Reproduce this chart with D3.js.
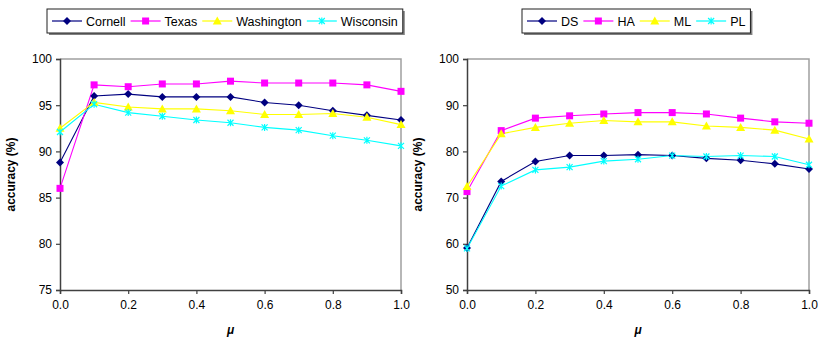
<!DOCTYPE html>
<html>
<head>
<meta charset="utf-8">
<script src="https://d3js.org/d3.v7.min.js"></script>
<style>
  body { margin: 0; background: #fff; }
  svg { display: block; font-family: "Liberation Sans", Arial, sans-serif; }
</style>
</head>
<body>
<svg id="chart" width="818" height="338"></svg>
<script>
// mu values shared by both panels
const mu = [0, 0.1, 0.2, 0.3, 0.4, 0.5, 0.6, 0.7, 0.8, 0.9, 1.0];
const xTicks = [0, 0.2, 0.4, 0.6, 0.8, 1.0];

// left panel
const leftNames = ['Cornell', 'Texas', 'Washington', 'Wisconsin'];
const cornell    = [88.8, 96.0, 96.2, 95.9, 95.9, 95.9, 95.3, 95.0, 94.4, 93.9, 93.4];
const texas      = [86.0, 97.2, 97.0, 97.3, 97.3, 97.6, 97.4, 97.4, 97.4, 97.2, 96.5];
const washington = [92.5, 95.3, 94.8, 94.6, 94.6, 94.4, 94.0, 94.0, 94.1, 93.7, 92.9];
const wisconsin  = [92.1, 95.1, 94.2, 93.8, 93.4, 93.1, 92.6, 92.3, 91.7, 91.2, 90.6];
const leftTicks = [75, 80, 85, 90, 95, 100];

// right panel
const rightNames = ['DS', 'HA', 'ML', 'PL'];
const ds = [59.1, 73.5, 77.8, 79.1, 79.1, 79.3, 79.1, 78.5, 78.1, 77.3, 76.2];
const ha = [71.3, 84.5, 87.2, 87.7, 88.1, 88.4, 88.4, 88.1, 87.2, 86.4, 86.1];
const ml = [72.4, 83.8, 85.2, 86.1, 86.7, 86.4, 86.4, 85.5, 85.2, 84.6, 82.7];
const pl = [59.0, 72.5, 76.0, 76.6, 77.9, 78.3, 79.1, 78.9, 79.1, 78.9, 77.1];
const rightTicks = [50, 60, 70, 80, 90, 100];

const colors = ['#000080', '#ff00ff', '#ffff00', '#00ffff'];
const shapes = ['diamond', 'square', 'triangle', 'x'];

const svg = d3.select('#chart');

function marker(g, shape, color, x, y) {
  if (shape === 'diamond') {
    g.append('path').attr('d', `M${x},${y-4}L${x+4},${y}L${x},${y+4}L${x-4},${y}Z`).attr('fill', color);
  } else if (shape === 'square') {
    g.append('rect').attr('x', x-3.5).attr('y', y-3.5).attr('width', 7).attr('height', 7).attr('fill', color);
  } else if (shape === 'triangle') {
    g.append('path').attr('d', `M${x},${y-4.5}L${x+4.5},${y+3.5}L${x-4.5},${y+3.5}Z`).attr('fill', color);
  } else {
    g.append('path').attr('d', `M${x-3},${y-3}L${x+3},${y+3}M${x+3},${y-3}L${x-3},${y+3}M${x},${y-3.5}L${x},${y+3.5}`)
      .attr('stroke', color).attr('stroke-width', 1.2).attr('fill', 'none');
  }
}

function panel(opt) {
  const x = d3.scaleLinear().domain([0, 1]).range([opt.x0, opt.x1]);
  const y = d3.scaleLinear().domain(opt.yDomain).range([290, 59]);
  const g = svg.append('g');

  // frame: top and right light gray
  g.append('path').attr('d', `M${opt.x0},59H${opt.x1}V290`).attr('stroke', '#a0a0a0').attr('stroke-width', 1.5).attr('fill', 'none');

  const yAxis = g.append('g').attr('transform', `translate(${opt.x0},0)`)
    .call(d3.axisLeft(y).tickValues(opt.yTicks).tickSize(4).tickPadding(4));
  const xAxis = g.append('g').attr('transform', 'translate(0,290)')
    .call(d3.axisBottom(x).tickValues(xTicks).tickSize(4).tickPadding(6).tickFormat(d3.format('.1f')));
  [yAxis, xAxis].forEach(a => {
    a.select('.domain').attr('stroke', '#404040').attr('stroke-width', 1.5);
    a.selectAll('.tick line').attr('stroke', '#404040').attr('stroke-width', 1.2);
    a.selectAll('.tick text').attr('font-size', 12).attr('fill', '#000').attr('font-family', '"Liberation Sans", Arial, sans-serif');
  });

  const line = d3.line().x((d, i) => x(mu[i])).y(d => y(d));
  opt.series.forEach((s, k) => {
    g.append('path').datum(s).attr('d', line).attr('fill', 'none').attr('stroke', colors[k]).attr('stroke-width', 1.1);
  });
  opt.series.forEach((s, k) => {
    s.forEach((v, i) => marker(g, shapes[k], colors[k], x(mu[i]), y(v)));
  });

  // axis titles
  g.append('text').attr('transform', `translate(${opt.x0 - 45},${(59 + 290) / 2}) rotate(-90)`)
    .attr('text-anchor', 'middle').attr('font-weight', 'bold').attr('font-size', 12).text('accuracy (%)');
  g.append('text').attr('x', (opt.x0 + opt.x1) / 2).attr('y', 334)
    .attr('text-anchor', 'middle').attr('font-weight', 'bold').attr('font-style', 'italic').attr('font-size', 12).text('μ');

  // legend
  const lg = svg.append('g');
  const box = lg.append('g');
  let cx = opt.legX + 5;
  opt.names.forEach((n, k) => {
    lg.append('line').attr('x1', cx).attr('x2', cx + 30).attr('y1', 21).attr('y2', 21).attr('stroke', colors[k]).attr('stroke-width', 1.2);
    marker(lg, shapes[k], colors[k], cx + 15, 21);
    const t = lg.append('text').attr('x', cx + 34).attr('y', 25.5).attr('font-size', 12.5).text(n);
    cx += 34 + t.node().getComputedTextLength() + 5;
  });
  const w = cx - opt.legX;
  box.append('rect').attr('x', opt.legX + 2).attr('y', 11).attr('width', w).attr('height', 24).attr('fill', '#808080');
  box.append('rect').attr('x', opt.legX).attr('y', 9).attr('width', w).attr('height', 24).attr('fill', '#fff').attr('stroke', '#202020').attr('stroke-width', 1);
}

panel({ x0: 60, x1: 401, yDomain: [75, 100], yTicks: leftTicks, series: [cornell, texas, washington, wisconsin], names: leftNames, legX: 47 });
panel({ x0: 467, x1: 809, yDomain: [50, 100], yTicks: rightTicks, series: [ds, ha, ml, pl], names: rightNames, legX: 522 });
</script>
</body>
</html>
